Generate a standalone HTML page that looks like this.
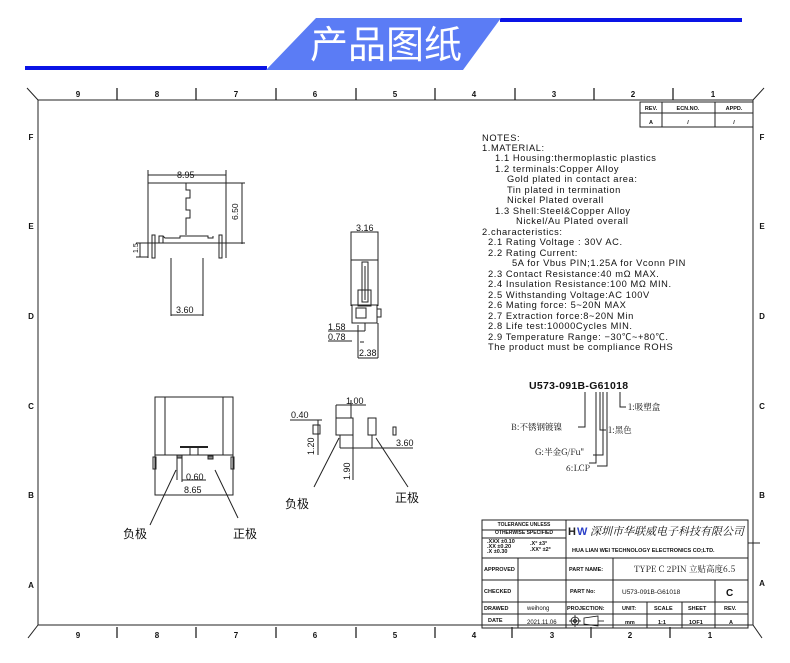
<!DOCTYPE html>
<html><head><meta charset="utf-8"><style>
html,body{margin:0;padding:0;background:#fff;}
svg{display:block;}
text{font-family:"Liberation Sans","Noto Sans CJK SC",sans-serif;fill:#111;}
.c{font-family:"Noto Serif CJK SC","Liberation Serif",serif;}
</style></head><body>
<svg width="790" height="663" viewBox="0 0 790 663" xmlns="http://www.w3.org/2000/svg">
<rect x="25" y="66" width="242" height="4" fill="#0a14e6"/>
<rect x="500" y="18" width="242" height="4" fill="#0a14e6"/>
<polygon points="316,18 501,18 463,70 266,70" fill="#5b7cf5"/>
<text x="386" y="58" font-size="38" text-anchor="middle" style="fill:#fff;font-family:'Noto Sans CJK SC',sans-serif">产品图纸</text>

<g stroke="#222" fill="none" stroke-width="1">
<line x1="38" y1="100" x2="753" y2="100"/>
<line x1="38" y1="100" x2="38" y2="625"/>
<line x1="753" y1="100" x2="753" y2="625"/>
<line x1="38" y1="625" x2="753" y2="625"/>
<line x1="27" y1="88" x2="38" y2="100"/>
<line x1="764" y1="88" x2="753" y2="100"/>
<line x1="753" y1="625" x2="762" y2="638"/>
<line x1="38" y1="625" x2="28" y2="638"/>
<g stroke-width="1.3">
<line x1="117" y1="88" x2="117" y2="100"/><line x1="196" y1="88" x2="196" y2="100"/><line x1="276" y1="88" x2="276" y2="100"/><line x1="356" y1="88" x2="356" y2="100"/><line x1="435" y1="88" x2="435" y2="100"/><line x1="515" y1="88" x2="515" y2="100"/><line x1="594" y1="88" x2="594" y2="100"/><line x1="673" y1="88" x2="673" y2="100"/>
<line x1="117" y1="627" x2="117" y2="638"/><line x1="196" y1="627" x2="196" y2="638"/><line x1="276" y1="627" x2="276" y2="638"/><line x1="356" y1="627" x2="356" y2="638"/><line x1="435" y1="627" x2="435" y2="638"/><line x1="512" y1="627" x2="512" y2="638"/><line x1="591" y1="627" x2="591" y2="638"/><line x1="670" y1="627" x2="670" y2="638"/>
</g>
<rect x="640" y="102" width="113" height="25"/>
<line x1="640" y1="113" x2="753" y2="113"/>
<line x1="662" y1="102" x2="662" y2="127"/>
<line x1="715" y1="102" x2="715" y2="127"/>
<rect x="482" y="520" width="266" height="108"/>
<line x1="566" y1="520" x2="566" y2="628"/>
<line x1="482" y1="558" x2="748" y2="558"/>
<line x1="482" y1="580" x2="748" y2="580"/>
<line x1="482" y1="602" x2="748" y2="602"/>
<line x1="482" y1="614" x2="748" y2="614"/>
<line x1="482" y1="530" x2="566" y2="530"/>
<line x1="482" y1="538" x2="566" y2="538"/>
<line x1="518" y1="558" x2="518" y2="628"/>
<line x1="613" y1="558" x2="613" y2="628"/>
<line x1="647" y1="602" x2="647" y2="628"/>
<line x1="682" y1="602" x2="682" y2="628"/>
<line x1="715" y1="580" x2="715" y2="628"/>
<line x1="748" y1="543" x2="760" y2="543"/>

<line x1="148" y1="170" x2="148" y2="258"/><line x1="226" y1="170" x2="226" y2="258"/>
<line x1="148" y1="175" x2="226" y2="175"/>
<line x1="148" y1="183" x2="245" y2="183"/>
<line x1="242" y1="183" x2="242" y2="244"/>
<line x1="148" y1="243" x2="245" y2="243"/>
<polyline points="186,183 186,190 190,190 190,198 186,198 186,210 190,210 190,218 186,218 186,235"/>
<rect x="152" y="235" width="3" height="23"/><rect x="219" y="235" width="3" height="23"/>
<rect x="159" y="236" width="4" height="7"/>
<polyline points="163,236 165,238 180,238 180,236 208,236 208,238 213,238 213,236"/>
<line x1="171" y1="258" x2="171" y2="316"/><line x1="203" y1="258" x2="203" y2="316"/>
<line x1="171" y1="315" x2="203" y2="315"/>
<line x1="136" y1="243" x2="148" y2="243"/><line x1="136" y1="257" x2="148" y2="257"/><line x1="140" y1="243" x2="140" y2="257"/>

<rect x="351" y="232" width="27" height="28"/>
<line x1="351" y1="260" x2="351" y2="306"/><line x1="378" y1="260" x2="378" y2="306"/>
<rect x="362" y="262" width="6" height="40"/>
<line x1="365" y1="266" x2="365" y2="300"/>
<rect x="358" y="290" width="13" height="16"/>
<rect x="352" y="305" width="25" height="18"/>
<rect x="356" y="308" width="10" height="10"/>
<rect x="377" y="309" width="4" height="8"/>
<line x1="328" y1="331" x2="365" y2="331"/><line x1="365" y1="323" x2="365" y2="331"/>
<line x1="328" y1="341" x2="352" y2="341"/>
<line x1="358" y1="325" x2="358" y2="358"/><line x1="378" y1="323" x2="378" y2="358"/>
<line x1="358" y1="358" x2="378" y2="358"/>
<line x1="360" y1="342" x2="364" y2="342"/>

<rect x="155" y="397" width="78" height="98"/>
<line x1="165" y1="397" x2="165" y2="455"/><line x1="223" y1="397" x2="223" y2="455"/>
<line x1="155" y1="455" x2="233" y2="455"/>
<rect x="153" y="457" width="3" height="12"/><rect x="231" y="457" width="3" height="12"/>
<line x1="180" y1="447" x2="208" y2="447" stroke-width="2"/>
<rect x="190" y="447" width="8" height="8"/>
<rect x="177" y="455" width="5" height="3" fill="#888"/><rect x="208" y="456" width="5" height="3" fill="#888"/>
<line x1="177" y1="458" x2="177" y2="480"/><line x1="182" y1="458" x2="182" y2="482"/>
<line x1="182" y1="480" x2="206" y2="480"/>
<line x1="155" y1="495" x2="233" y2="495"/>
<line x1="176" y1="470" x2="150" y2="525"/>
<line x1="215" y1="470" x2="238" y2="518"/>

<rect x="336" y="418" width="17" height="17"/>
<rect x="368" y="418" width="8" height="17"/>
<rect x="313" y="425" width="7" height="9"/>
<rect x="393" y="427" width="3" height="8"/>
<line x1="336" y1="405" x2="336" y2="418"/><line x1="351" y1="400" x2="351" y2="418"/>
<line x1="336" y1="405" x2="366" y2="405"/>
<line x1="290" y1="420" x2="322" y2="420"/>
<line x1="318" y1="420" x2="318" y2="455"/>
<line x1="340" y1="435" x2="340" y2="448"/><line x1="372" y1="435" x2="372" y2="448"/>
<line x1="340" y1="448" x2="413" y2="448"/>
<line x1="353" y1="435" x2="353" y2="480"/>
<line x1="339" y1="438" x2="314" y2="487"/>
<line x1="376" y1="438" x2="408" y2="487"/>

<polyline points="620,392 620,407 626,407"/>
<polyline points="585,392 585,427 578,427"/>
<polyline points="600,392 600,430 606,430"/>
<polyline points="596,392 596,463 589,463"/>
<polyline points="607,392 607,466 597,466"/>
<polyline points="603,392 603,455 593,455"/>
</g>

<g font-size="8" font-weight="bold" text-anchor="middle">
<text x="78" y="97">9</text><text x="157" y="97">8</text><text x="236" y="97">7</text><text x="315" y="97">6</text><text x="395" y="97">5</text><text x="474" y="97">4</text><text x="554" y="97">3</text><text x="633" y="97">2</text><text x="713" y="97">1</text>
<text x="78" y="638">9</text><text x="157" y="638">8</text><text x="236" y="638">7</text><text x="315" y="638">6</text><text x="395" y="638">5</text><text x="474" y="638">4</text><text x="552" y="638">3</text><text x="630" y="638">2</text><text x="710" y="638">1</text>
<text x="31" y="140">F</text><text x="31" y="229">E</text><text x="31" y="319">D</text><text x="31" y="409">C</text><text x="31" y="498">B</text><text x="31" y="588">A</text>
<text x="762" y="140">F</text><text x="762" y="229">E</text><text x="762" y="319">D</text><text x="762" y="409">C</text><text x="762" y="498">B</text><text x="762" y="586">A</text>
</g>
<g font-size="5.5" font-weight="bold" text-anchor="middle">
<text x="651" y="110">REV.</text><text x="688" y="110">ECN.NO.</text><text x="734" y="110">APPD.</text>
<text x="651" y="124">A</text><text x="688" y="124">/</text><text x="734" y="124">/</text>
</g>

<g font-size="9.3" letter-spacing="0.6">
<text x="482" y="141">NOTES:</text>
<text x="482" y="151">1.MATERIAL:</text>
<text x="495" y="161">1.1  Housing:thermoplastic  plastics</text>
<text x="495" y="172">1.2  terminals:Copper  Alloy</text>
<text x="507" y="182">Gold  plated  in  contact  area:</text>
<text x="507" y="193">Tin  plated  in  termination</text>
<text x="507" y="203">Nickel  Plated  overall</text>
<text x="495" y="214">1.3  Shell:Steel&amp;Copper  Alloy</text>
<text x="516" y="224">Nickel/Au  Plated  overall</text>
<text x="482" y="235">2.characteristics:</text>
<text x="488" y="245">2.1  Rating  Voltage  :  30V  AC.</text>
<text x="488" y="256">2.2  Rating  Current:</text>
<text x="512" y="266">5A  for  Vbus  PIN;1.25A  for  Vconn  PIN</text>
<text x="488" y="277">2.3  Contact  Resistance:40  mΩ  MAX.</text>
<text x="488" y="287">2.4  Insulation  Resistance:100  MΩ  MIN.</text>
<text x="488" y="298">2.5  Withstanding  Voltage:AC  100V</text>
<text x="488" y="308">2.6  Mating  force:  5~20N  MAX</text>
<text x="488" y="319">2.7  Extraction  force:8~20N  Min</text>
<text x="488" y="329">2.8  Life  test:10000Cycles  MIN.</text>
<text x="488" y="340">2.9  Temperature  Range:  −30℃~+80℃.</text>
<text x="488" y="350">The  product  must  be  compliance  ROHS</text>
</g>

<text x="529" y="389" font-size="10.5" font-weight="bold" letter-spacing="0.3">U573-091B-G61018</text>
<g font-size="8.5" class="c">
<text x="628" y="410" class="c">1:吸塑盒</text>
<text x="511" y="430" class="c">B:不锈钢镀镍</text>
<text x="608" y="433" class="c">1:黑色</text>
<text x="535" y="455" class="c">G:半金G/Fu"</text>
<text x="566" y="471" class="c">6:LCP</text>
</g>

<g font-size="9">
<text x="177" y="178">8.95</text>
<text x="238" y="220" transform="rotate(-90 238 220)" font-size="8.5">6.50</text>
<text x="138" y="253" font-size="7" transform="rotate(-90 138 253)">1.5</text>
<text x="176" y="313">3.60</text>
<text x="356" y="231">3.16</text>
<text x="328" y="330">1.58</text>
<text x="328" y="340">0.78</text>
<text x="359" y="356">2.38</text>
<text x="186" y="480">0.60</text>
<text x="184" y="493">8.65</text>
<text x="346" y="404">1.00</text>
<text x="291" y="418">0.40</text>
<text x="314" y="455" transform="rotate(-90 314 455)">1.20</text>
<text x="350" y="480" transform="rotate(-90 350 480)">1.90</text>
<text x="396" y="446">3.60</text>
</g>
<g font-size="12" style="font-family:'Noto Sans CJK SC',sans-serif">
<text x="123" y="538">负极</text><text x="233" y="538">正极</text>
<text x="285" y="508">负极</text><text x="395" y="502">正极</text>
</g>

<g font-size="5" font-weight="bold" text-anchor="middle">
<text x="524" y="526">TOLERANCE UNLESS</text><text x="524" y="534">OTHERWISE SPECIFIED</text>
</g>
<g font-size="5.5" font-weight="bold">
<text x="487" y="543">.XXX ±0.10</text><text x="487" y="548">.XX  ±0.20</text><text x="487" y="553">.X   ±0.30</text>
<text x="530" y="545">.X°  ±3°</text><text x="530" y="551">.XX° ±2°</text>
<text x="484" y="571">APPROVED</text><text x="484" y="593">CHECKED</text><text x="484" y="610">DRAWED</text><text x="488" y="622">DATE</text>
<text x="569" y="571">PART NAME:</text><text x="570" y="593">PART No:</text><text x="567" y="610">PROJECTION:</text>
<text x="622" y="610">UNIT:</text><text x="654" y="610">SCALE</text><text x="688" y="610">SHEET</text><text x="724" y="610">REV.</text>
<text x="625" y="624">mm</text><text x="658" y="624">1:1</text><text x="689" y="624">1OF1</text><text x="729" y="624">A</text>
<text x="572" y="552">HUA LIAN WEI TECHNOLOGY ELECTRONICS CO;LTD.</text>
<text x="622" y="594" font-weight="normal" font-size="6.5">U573-091B-G61018</text>
</g>
<text x="726" y="596" font-size="10" font-weight="bold">C</text>
<text x="527" y="624" font-size="6">2021.11.06</text>
<text x="527" y="610" font-size="6">weihong</text>
<text x="568" y="535" font-size="11" font-weight="bold" style="fill:#222">H</text>
<text x="577" y="535" font-size="11" font-weight="bold" style="fill:#2a3fc8">W</text>
<text x="590" y="535" font-size="11" class="c" style="font-style:italic">深圳市华联威电子科技有限公司</text>
<text x="634" y="572" font-size="8.5" class="c">TYPE C 2PIN 立贴高度6.5</text>
<g stroke="#111" fill="none" stroke-width="0.8">
<circle cx="575" cy="621" r="4"/><circle cx="575" cy="621" r="1.5"/>
<line x1="569" y1="621" x2="581" y2="621"/><line x1="575" y1="615" x2="575" y2="627"/>
<polygon points="584,618 598,616 598,626 584,624"/><line x1="598" y1="621" x2="604" y2="621"/>
</g>
</svg>
</body></html>
